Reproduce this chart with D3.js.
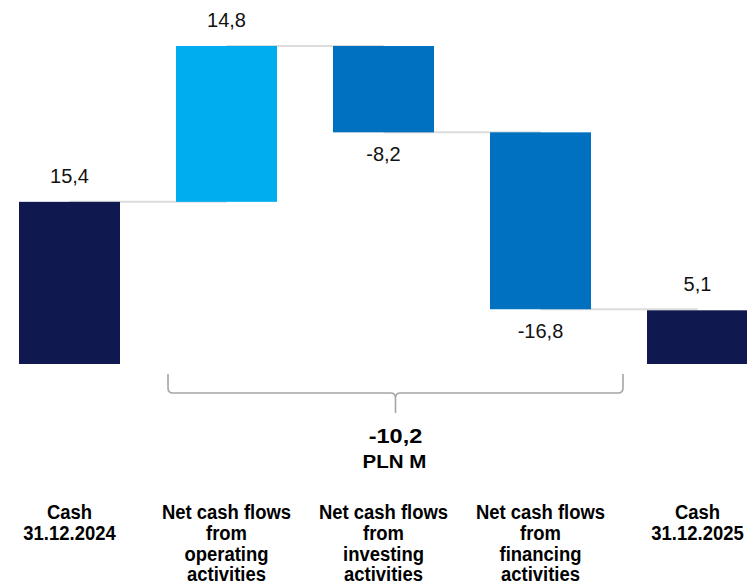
<!DOCTYPE html>
<html>
<head>
<meta charset="utf-8">
<script src="https://cdn.jsdelivr.net/npm/d3@7"></script>
<style>
  html, body { margin: 0; padding: 0; background: #fff; }
  svg { display: block; }
</style>
</head>
<body>
<svg id="chart" width="747" height="587"></svg>
<script>
// Cash flow bridge, PLN M
const categories = [
  ["Cash", "31.12.2024"],
  ["Net cash flows", "from", "operating", "activities"],
  ["Net cash flows", "from", "investing", "activities"],
  ["Net cash flows", "from", "financing", "activities"],
  ["Cash", "31.12.2025"]
];
const values = [15.4, 14.8, -8.2, -16.8, 5.1];
const kinds = ["total", "delta", "delta", "delta", "total"];
const unitLabel = "PLN M";

const colors = { total: "#10194f", up: "#00aeef", down: "#0070c0" };
const fmt = v => d3.format(".1f")(v).replace(".", ",").replace("−", "-");
const FONT = "Liberation Sans, Arial, sans-serif";

// running start/end of every bar
let run = 0;
const bars = values.map((v, i) => {
  let y0, y1;
  if (kinds[i] === "total") { y0 = 0; y1 = v; run = v; }
  else { y0 = run; y1 = run + v; run = y1; }
  return { i, v, kind: kinds[i], y0, y1 };
});
const netChange = d3.sum(values.filter((v, i) => kinds[i] === "delta"));

const svg = d3.select("#chart");
const x = d3.scaleBand().domain(d3.range(values.length)).range([19, 748])
  .paddingInner(56 / 157).paddingOuter(0);
const bw = x.bandwidth();
const cx = i => x(i) + bw / 2;
const peak = d3.max(bars, b => Math.max(b.y0, b.y1));
const y = d3.scaleLinear().domain([0, peak]).range([364, 46]);

// connectors between consecutive bars
const conn = d3.pairs(bars).map(([a, b]) => ({ x1: cx(a.i), x2: cx(b.i), lvl: a.y1 }));
svg.append("g").selectAll("line").data(conn).join("line")
  .attr("x1", d => d.x1).attr("x2", d => d.x2)
  .attr("y1", d => y(d.lvl)).attr("y2", d => y(d.lvl))
  .attr("stroke", "#dcdcdc").attr("stroke-width", 2);

svg.append("g").selectAll("rect").data(bars).join("rect")
  .attr("x", d => x(d.i)).attr("width", bw)
  .attr("y", d => y(Math.max(d.y0, d.y1)))
  .attr("height", d => Math.abs(y(d.y0) - y(d.y1)))
  .attr("fill", d => d.kind === "total" ? colors.total : (d.v >= 0 ? colors.up : colors.down));

// value labels: above rising bars, below falling ones
svg.append("g").selectAll("text").data(bars).join("text")
  .attr("x", d => cx(d.i))
  .attr("y", d => d.v >= 0 ? y(Math.max(d.y0, d.y1)) - 19 : y(Math.min(d.y0, d.y1)) + 29)
  .attr("text-anchor", "middle")
  .attr("font-family", FONT)
  .attr("font-size", 20)
  .attr("fill", "#111")
  .text(d => fmt(d.v));

// brace spanning the three flow bars
const bl = x(1) - 8, br = x(3) + bw + 32, bm = (bl + br) / 2;
const yt = 374, yh = 393, yb = 413, r = 5;
const brace = `M${bl},${yt} L${bl},${yh - r} Q${bl},${yh} ${bl + r},${yh} L${bm - r},${yh} Q${bm},${yh} ${bm},${yh + r} L${bm},${yb}
M${bm},${yh + r} Q${bm},${yh} ${bm + r},${yh} L${br - r},${yh} Q${br},${yh} ${br},${yh - r} L${br},${yt}`;
svg.append("path").attr("d", brace).attr("fill", "none")
  .attr("stroke", "#a6a6a6").attr("stroke-width", 1.6);

svg.append("text").attr("transform", `translate(${bm},443) scale(1.12,1)`)
  .attr("text-anchor", "middle")
  .attr("font-family", FONT).attr("font-weight", "bold")
  .attr("font-size", 21).attr("fill", "#000").text(fmt(netChange));
svg.append("text").attr("transform", `translate(${bm - 1},468) scale(1.14,1)`)
  .attr("text-anchor", "middle")
  .attr("font-family", FONT).attr("font-weight", "bold")
  .attr("font-size", 18).attr("fill", "#000").text(unitLabel);

// category labels
const cat = svg.append("g").selectAll("text").data(categories).join("text")
  .attr("text-anchor", "middle")
  .attr("font-family", FONT)
  .attr("font-weight", "bold")
  .attr("font-size", 20.5)
  .attr("fill", "#000")
  .attr("transform", (d, i) => `translate(${cx(i)},519) scale(0.9,1)`);
cat.selectAll("tspan").data(d => d).join("tspan")
  .attr("x", 0).attr("y", (d, j) => j * 20.8).text(d => d);
</script>
</body>
</html>
